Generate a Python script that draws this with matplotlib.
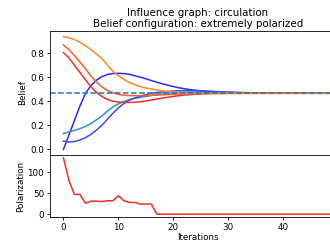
import matplotlib

matplotlib.use('Agg')
import matplotlib.pyplot as plt

# iterations 0..49
iterations = list(range(50))

# belief of each agent per iteration
belief_orange = [0.937, 0.928, 0.912, 0.890, 0.862, 0.830, 0.793, 0.755, 0.700, 0.650,
                 0.612, 0.582, 0.557, 0.537, 0.521, 0.510, 0.502, 0.494, 0.487, 0.481,
                 0.476, 0.472, 0.470, 0.468, 0.467, 0.466, 0.466, 0.466, 0.466, 0.466,
                 0.466, 0.466, 0.466, 0.466, 0.466, 0.466, 0.466, 0.466, 0.466, 0.466,
                 0.466, 0.466, 0.466, 0.466, 0.466, 0.466, 0.466, 0.466, 0.466, 0.466]
belief_orangered = [0.868, 0.830, 0.780, 0.725, 0.670, 0.610, 0.560, 0.520, 0.490, 0.470,
                    0.457, 0.450, 0.447, 0.446, 0.446, 0.447, 0.449, 0.451, 0.453, 0.455,
                    0.457, 0.459, 0.460, 0.461, 0.462, 0.463, 0.464, 0.464, 0.465, 0.465,
                    0.466, 0.466, 0.466, 0.466, 0.466, 0.466, 0.466, 0.466, 0.466, 0.466,
                    0.466, 0.466, 0.466, 0.466, 0.466, 0.466, 0.466, 0.466, 0.466, 0.466]
belief_red = [0.805, 0.760, 0.700, 0.640, 0.580, 0.520, 0.475, 0.440, 0.415, 0.400,
              0.393, 0.390, 0.390, 0.392, 0.396, 0.402, 0.410, 0.418, 0.426, 0.433,
              0.440, 0.446, 0.451, 0.455, 0.458, 0.461, 0.463, 0.464, 0.465, 0.465,
              0.466, 0.466, 0.466, 0.466, 0.466, 0.466, 0.466, 0.466, 0.466, 0.466,
              0.466, 0.466, 0.466, 0.466, 0.466, 0.466, 0.466, 0.466, 0.466, 0.466]
belief_blue = [0.000, 0.120, 0.240, 0.360, 0.465, 0.530, 0.575, 0.605, 0.622, 0.630,
               0.632, 0.630, 0.624, 0.612, 0.600, 0.587, 0.572, 0.558, 0.545, 0.533,
               0.522, 0.512, 0.504, 0.497, 0.492, 0.487, 0.483, 0.480, 0.477, 0.475,
               0.473, 0.472, 0.471, 0.470, 0.469, 0.469, 0.468, 0.468, 0.468, 0.468,
               0.467, 0.467, 0.467, 0.467, 0.467, 0.467, 0.467, 0.467, 0.467, 0.467]
belief_lightblue = [0.132, 0.145, 0.158, 0.172, 0.190, 0.215, 0.245, 0.278, 0.318, 0.352,
                    0.378, 0.398, 0.413, 0.424, 0.432, 0.440, 0.447, 0.454, 0.460, 0.466,
                    0.470, 0.473, 0.474, 0.475, 0.475, 0.474, 0.473, 0.472, 0.471, 0.470,
                    0.469, 0.469, 0.468, 0.468, 0.468, 0.467, 0.467, 0.467, 0.467, 0.467,
                    0.467, 0.467, 0.467, 0.467, 0.467, 0.467, 0.467, 0.467, 0.467, 0.467]
belief_blue2 = [0.068, 0.062, 0.065, 0.078, 0.097, 0.125, 0.160, 0.200, 0.250, 0.300,
                0.345, 0.380, 0.408, 0.428, 0.442, 0.455, 0.465, 0.473, 0.478, 0.482,
                0.485, 0.487, 0.488, 0.488, 0.487, 0.486, 0.484, 0.482, 0.480, 0.478,
                0.476, 0.474, 0.473, 0.472, 0.471, 0.470, 0.469, 0.469, 0.468, 0.468,
                0.468, 0.467, 0.467, 0.467, 0.467, 0.467, 0.467, 0.467, 0.467, 0.467]
consensus = 0.467

polarization = [134, 80, 47, 47, 26, 31, 31, 30, 32, 32,
                44, 32, 28, 28, 24, 24, 24, 0, 0, 0,
                0, 0, 0, 0, 0, 0, 0, 0, 0, 0,
                0, 0, 0, 0, 0, 0, 0, 0, 0, 0,
                0, 0, 0, 0, 0, 0, 0, 0, 0, 0]

beliefs = [belief_blue, belief_lightblue, belief_blue2, belief_red, belief_orangered, belief_orange]
colors = ['#2a2aff', '#2f8fd5', '#3a50e8', '#ff2a2a', '#ff5a30', '#ff8a20']

plt.rcParams['font.size'] = 6.3
plt.rcParams['axes.linewidth'] = 0.6
plt.rcParams['xtick.major.width'] = 0.6
plt.rcParams['ytick.major.width'] = 0.6
plt.rcParams['xtick.major.size'] = 2.2
plt.rcParams['ytick.major.size'] = 2.2
plt.rcParams['xtick.major.pad'] = 2
plt.rcParams['ytick.major.pad'] = 2

fig = plt.figure(figsize=(3.3, 2.49), dpi=100)
ax1 = fig.add_axes([0.1515, 0.3775, 0.897, 0.498])
ax2 = fig.add_axes([0.1515, 0.1285, 0.897, 0.249], sharex=ax1)

# 信念の推移
for b, c in zip(beliefs, colors):
    ax1.plot(iterations, b, color=c, lw=1.1)
ax1.axhline(consensus, color='#1f77b4', ls='--', lw=1.1)
ax1.set_ylabel('Belief', labelpad=2)
ax1.set_title('Influence graph: circulation\nBelief configuration: extremely polarized',
              fontsize=7.4, pad=3, linespacing=1.05)
ax1.tick_params(labelbottom=False, bottom=False)
ax1.set_yticks([0.0, 0.2, 0.4, 0.6, 0.8])

# 分極の推移
ax2.plot(iterations, polarization, color='#ff2a2a', lw=1.1)
ax2.set_ylabel('Polarization', labelpad=2)
ax2.set_xlabel('Iterations', labelpad=1)
ax2.set_yticks([0, 50, 100])
ax2.set_xticks([0, 10, 20, 30, 40, 50])

plt.savefig('out.png', dpi=100)
